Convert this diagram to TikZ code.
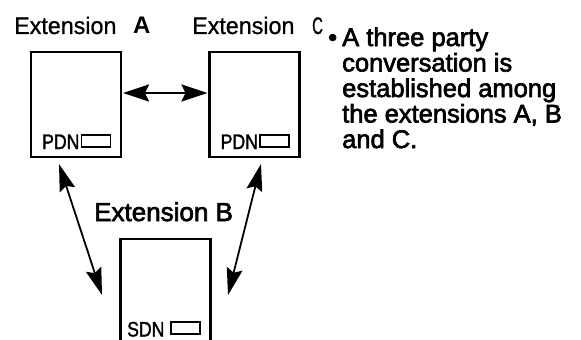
\documentclass[tikz,border=0pt]{standalone}
\usepackage{fontspec}
\setmainfont{Liberation Sans}
\newfontfamily\labfont[FakeStretch=0.97,FakeBold=0.8]{Liberation Sans}
\newfontfamily\ccfont[FakeStretch=0.62,FakeBold=0.8]{Liberation Sans}
\newfontfamily\heavyfont[FakeBold=2.5]{Liberation Sans}
\newfontfamily\pdnfont[FakeStretch=0.84,FakeBold=1.5]{Liberation Sans}
\usetikzlibrary{arrows.meta}
\begin{document}
\begin{tikzpicture}[x=1pt,y=-1pt,
  phone/.style={draw,line width=2.5pt,minimum width=90pt,minimum height=105pt,inner sep=0pt},
  keybox/.style={draw,line width=1.8pt,minimum width=29pt,minimum height=11.5pt,inner sep=0pt},
  keylab/.style={anchor=base west,inner sep=0pt,font=\pdnfont\fontsize{21}{21}\selectfont},
  toplab/.style={anchor=base west,inner sep=0pt,font=\labfont\fontsize{24}{24}\selectfont},
  txt/.style={anchor=base west,inner sep=0pt,font=\heavyfont\fontsize{25.5}{25.5}\selectfont},
  bighead/.style={Stealth[length=26pt,width=17pt,inset=4pt]},
  conn/.style={line width=2.4pt,{Stealth[length=26pt,width=17pt,inset=4pt]}-{Stealth[length=26pt,width=17pt,inset=4pt]}},
  connd/.style={line width=1.8pt,{Stealth[length=27pt,width=16pt,inset=4pt]}-{Stealth[length=27pt,width=16pt,inset=4pt]}}
]
\useasboundingbox (0,0) rectangle (581,340);
% boxes
\node[phone] (A) at (76,104.5) {};
\node[phone] (C) at (254.5,104.5) {};
\node[phone] (B) at (165.5,291.5) {};
% key labels
\node[keylab] (pa) at (42,149) {PDN};
\node[keybox] (ka) at (96,141) {};
\node[keylab] (pc) at (220.5,149) {PDN};
\node[keybox] (kc) at (274.5,141) {};
\node[keylab] (sb) at (127,336.5) {SDN};
\node[keybox] (kb) at (185.5,328) {};
% top labels
\node[toplab] (la) at (14,34) {Extension};
\node[anchor=base west,inner sep=0pt,font=\bfseries\fontsize{24}{24}\selectfont] (lA) at (133,34) {A};
\node[toplab] (lc) at (192,34) {Extension};
\node[anchor=base west,inner sep=0pt,font=\ccfont\fontsize{24}{24}\selectfont] (lC) at (312,34) {C};
\node[anchor=base west,inner sep=0pt,font=\heavyfont\fontsize{26}{26}\selectfont] (lB) at (94,221) {Extension B};
% right text
\node[txt] (bul) at (328,46) {•};
\node[txt] (t1) at (342,46) {A three party};
\node[txt] (t2) at (342,71.5) {conversation is};
\node[txt] (t3) at (342,97) {established among};
\node[txt] (t4) at (342,122.5) {the extensions A, B};
\node[txt] (t5) at (342,148) {and C.};
% arrow ends
\coordinate (h1) at (123,93);
\coordinate (h2) at (207.5,93);
\coordinate (l1) at (59,164);
\coordinate (l2) at (102,295);
\coordinate (r1) at (261,164);
\coordinate (r2) at (228,295);
\draw[conn] (h1) -- (h2);
\draw[connd] (l1) -- (l2);
\draw[connd] (r1) -- (r2);
\end{tikzpicture}
\end{document}
